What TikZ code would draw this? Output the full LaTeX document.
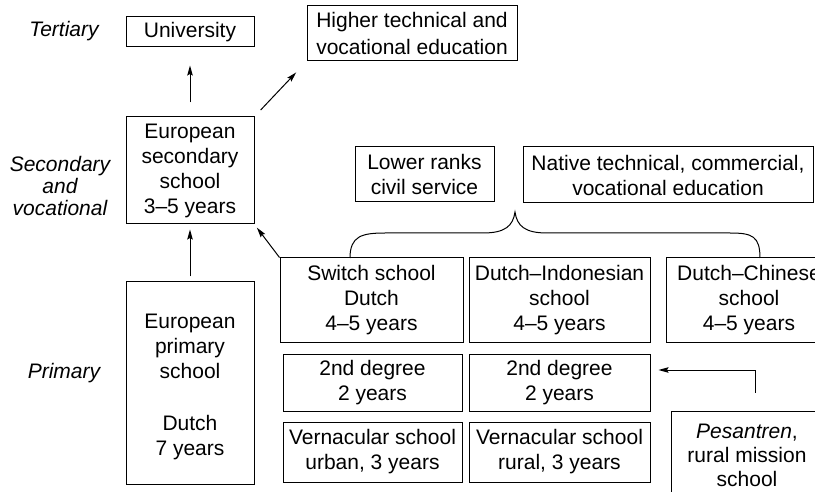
\documentclass[tikz,border=0pt]{standalone}
\usepackage{fontspec}
\setmainfont{Liberation Sans}
\usetikzlibrary{arrows.meta,calc}
\begin{document}
\begin{tikzpicture}[x=1pt,y=-1pt,
  box/.style={draw, line width=1pt, align=center, inner sep=0pt,
    font=\fontsize{21}{25}\selectfont},
  level/.style={align=center, inner sep=0pt,
    font=\fontsize{21}{22}\selectfont\itshape},
  arr/.style={line width=1pt, -{Stealth[length=10pt,width=5.5pt,inset=1.5pt]}},
  brace/.style={line width=1pt}]
\clip (0,0) rectangle (815,492);
\fill[white] (0,0) rectangle (815,492);

% level labels
\node[level] (lt) at (64,31) {Tertiary};
\node[level] (ls) at (60,186) {Secondary\\[0pt]and\\[0pt]vocational};
\node[level] (lp) at (64,373) {Primary};

% European track
\node[box, minimum width=128, minimum height=30] (univ) at (190,32) {University};
\node[box, minimum width=128, minimum height=107] (sec) at (190,170.5)
  {European\\secondary\\school\\3--5 years};
\node[box, minimum width=128, minimum height=202] (prim) at (190,383)
  {\rule{0pt}{23pt}European\\primary\\school\\[27pt]Dutch\\7 years};

% further education
\node[box, minimum width=210, minimum height=55, font=\fontsize{21}{27}\selectfont]
  (high) at (412,33.5) {Higher technical and\\vocational education};
\node[box, minimum width=139, minimum height=55] (lower) at (424.5,174.5)
  {Lower ranks\\civil service};
\node[box, minimum width=290, minimum height=56] (native) at (668,175)
  {Native technical, commercial,\\vocational education};

% native primary schools
\node[box, minimum width=183, minimum height=84] (switch) at (371.5,300)
  {Switch school\\Dutch\\4--5 years};
\node[box, minimum width=181, minimum height=84] (dind) at (559.5,300)
  {Dutch--Indonesian\\school\\4--5 years};
\node[box, minimum width=166, minimum height=84] (dchin) at (749,300)
  {Dutch--Chinese\\school\\4--5 years};
\node[box, minimum width=179, minimum height=57] (deg1) at (372.5,382.5)
  {2nd degree\\2 years};
\node[box, minimum width=181, minimum height=57] (deg2) at (559.5,382.5)
  {2nd degree\\2 years};
\node[box, minimum width=179, minimum height=60] (vern1) at (372.5,452)
  {Vernacular school\\urban, 3 years};
\node[box, minimum width=181, minimum height=60] (vern2) at (559.5,452)
  {Vernacular school\\rural, 3 years};
\node[box, minimum width=152, minimum height=88, font=\fontsize{21}{24}\selectfont]
  (pes) at (747,455) {\textit{Pesantren},\\rural mission\\school};

% arrows
\draw[arr, shorten <=14pt, shorten >=18pt] (sec.north) -- (univ.south);
\draw[arr, shorten <=9pt, shorten >=15pt] (sec.north east) -- (high.south west);
\draw[arr, shorten <=5pt, shorten >=5pt] (prim.north) -- (sec.south);
\draw[arr, shorten >=4pt] (switch.north west) -- (sec.south east);
\draw[arr] ($(pes.north)+(8,-18)$) |- ($(deg2.east)+(8,-12.5)$);

% brace over the native schools
\draw[brace] (350,258) .. controls (350,236) and (362,233) .. (385,233)
  -- (483,233) .. controls (505,233) and (513,226) .. (515,212)
  .. controls (517,226) and (525,233) .. (547,233)
  -- (730,233) .. controls (752,233) and (760,236) .. (760,258);
\end{tikzpicture}
\end{document}
